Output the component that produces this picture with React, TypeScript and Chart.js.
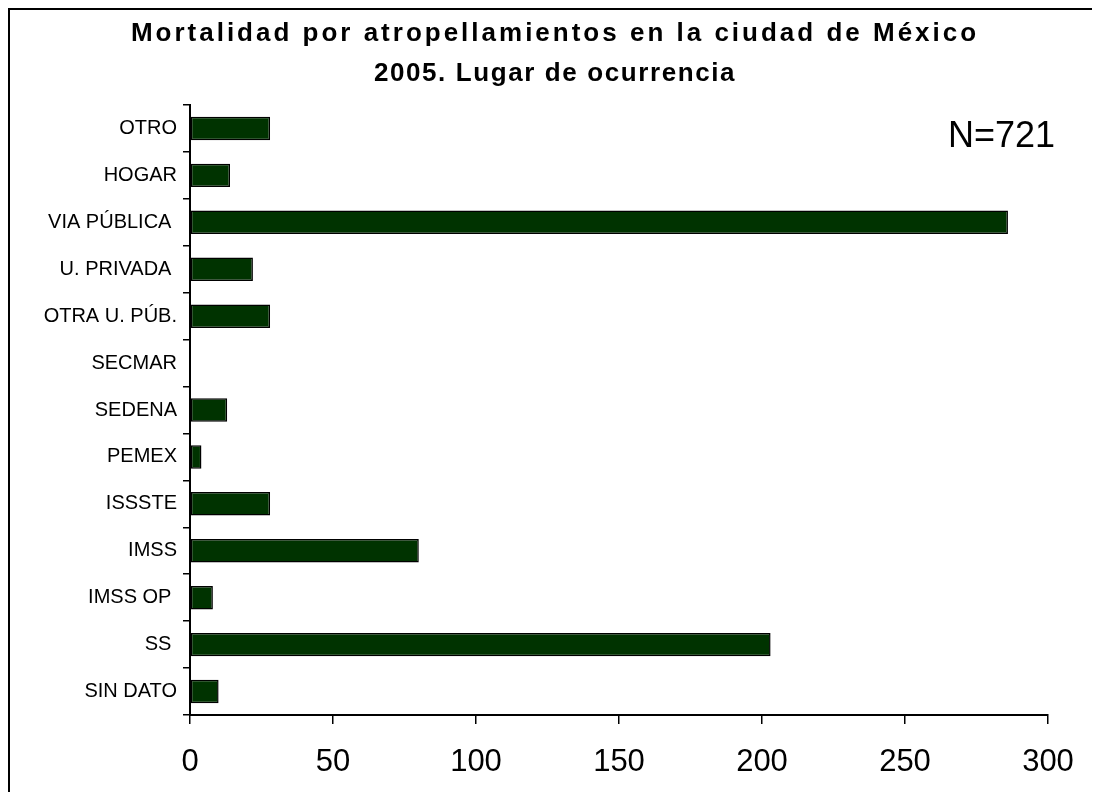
import React, { useEffect, useRef } from "react";
import { Chart, registerables } from "chart.js";

Chart.register(...registerables);

const titleLines = [
  "Mortalidad por atropellamientos en la ciudad de México",
  "2005. Lugar de ocurrencia",
];
const annotation = "N=721";
const categories = [
  "OTRO",
  "HOGAR",
  "VIA PÚBLICA ",
  "U. PRIVADA ",
  "OTRA U. PÚB.",
  "SECMAR",
  "SEDENA",
  "PEMEX",
  "ISSSTE",
  "IMSS",
  "IMSS OP ",
  "SS ",
  "SIN DATO",
];
const values = [28, 14, 286, 22, 28, 0, 13, 4, 28, 80, 8, 203, 10];
const xMin = 0;
const xMax = 300;
const xStep = 50;

const FONT = '"Liberation Sans", Arial, sans-serif';

export default function App() {
  const ref = useRef<HTMLCanvasElement | null>(null);

  useEffect(() => {
    document.body.style.overflow = "hidden";
    const canvas = ref.current;
    if (!canvas) return;

    const textPlugin = {
      id: "textPlugin",
      afterDraw(chart: any) {
        const ctx = chart.ctx as CanvasRenderingContext2D;
        ctx.save();
        ctx.fillStyle = "#000";
        ctx.textAlign = "center";
        ctx.textBaseline = "alphabetic";
        ctx.font = `bold 26px ${FONT}`;
        const cx = chart.width / 2;
        (ctx as any).letterSpacing = "3px";
        ctx.fillText(titleLines[0], cx, 31);
        (ctx as any).letterSpacing = "1.6px";
        ctx.fillText(titleLines[1], cx, 71);
        (ctx as any).letterSpacing = "0px";
        ctx.font = `36px ${FONT}`;
        ctx.textAlign = "right";
        ctx.fillText(annotation, 1045, 137);
        ctx.restore();
      },
    };

    const chart = new Chart(canvas, {
      type: "bar",
      data: {
        labels: categories,
        datasets: [
          {
            data: values,
            backgroundColor: "#003300",
            borderColor: "#000000",
            borderWidth: 1.5,
            borderSkipped: false,
            barPercentage: 0.5,
            categoryPercentage: 1.0,
          },
        ],
      },
      options: {
        indexAxis: "y",
        animation: false,
        responsive: true,
        maintainAspectRatio: false,
        layout: { padding: { top: 95, right: 52, bottom: 0, left: 0 } },
        plugins: {
          legend: { display: false },
          title: { display: false },
          tooltip: { enabled: false },
        },
        scales: {
          x: {
            min: xMin,
            max: xMax,
            ticks: {
              stepSize: xStep,
              color: "#000",
              font: { family: FONT, size: 31 },
              padding: 20,
            },
            grid: {
              drawOnChartArea: false,
              drawTicks: true,
              tickLength: 9,
              color: "#000",
              lineWidth: 1.5,
            },
            border: { color: "#000", width: 2 },
            afterFit(scale: any) {
              scale.height = 77;
            },
          },
          y: {
            ticks: {
              color: "#000",
              font: { family: FONT, size: 20 },
              padding: 6,
            },
            grid: {
              drawOnChartArea: false,
              drawTicks: true,
              tickLength: 7,
              color: "#000",
              lineWidth: 1.5,
              offset: true,
            },
            border: { color: "#000", width: 2 },
            afterFit(scale: any) {
              scale.width = 180;
            },
          },
        },
      },
      plugins: [textPlugin],
    });

    return () => {
      chart.destroy();
    };
  }, []);

  return (
    <div
      style={{
        width: 1100,
        height: 792,
        border: "2px solid #000",
        boxSizing: "border-box",
        background: "#fff",
      }}
    >
      <div style={{ position: "relative", width: 1090, height: 782 }}>
        <canvas ref={ref} />
      </div>
    </div>
  );
}
